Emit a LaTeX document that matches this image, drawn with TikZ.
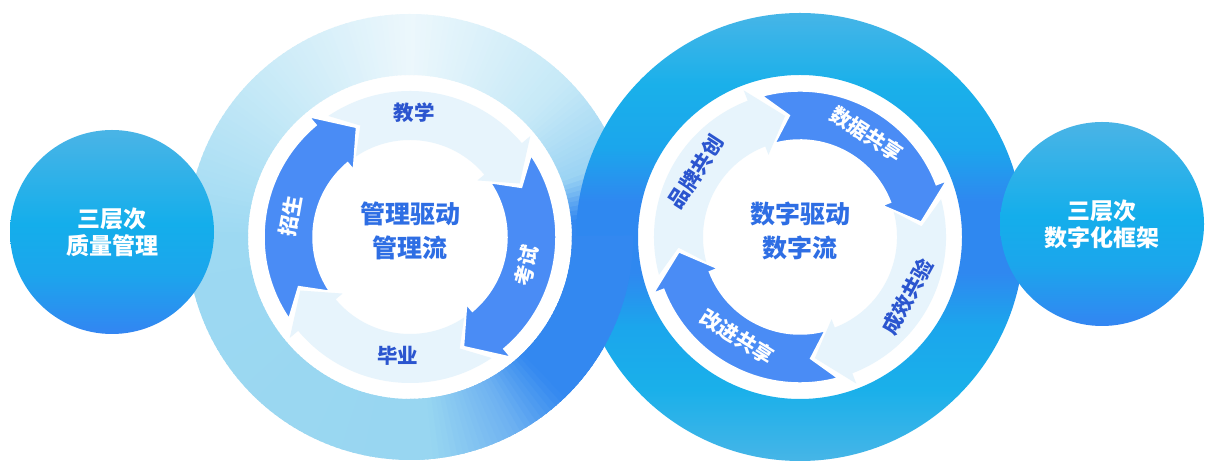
\documentclass[tikz,border=0pt]{standalone}
\usepackage{fontspec}
\setmainfont{Noto Sans CJK SC}
\usetikzlibrary{calc}

\definecolor{arrowdark}{HTML}{4A8CF5}
\definecolor{arrowlight}{HTML}{E7F4FC}
\definecolor{labelblue}{HTML}{2B55CF}
\definecolor{hubblue}{HTML}{2E6EE4}
% left ring, by angle
\definecolor{ringA}{HTML}{98D6F1}
\definecolor{ringB}{HTML}{6FB2F1}
\definecolor{ringC}{HTML}{3388F0}
\definecolor{ringD}{HTML}{9AD3F3}
\definecolor{ringE}{HTML}{C6E9F7}
\definecolor{ringF}{HTML}{ECF7FC}
\definecolor{ringG}{HTML}{9DD9F2}
% right ring and the two balls
\definecolor{cyanlight}{HTML}{46B5E7}
\definecolor{cyanmid}{HTML}{1AB0EA}
\definecolor{cyanblue}{HTML}{1BA6EC}
\definecolor{deepblue}{HTML}{2F88F0}
\definecolor{ballbot}{HTML}{3385F2}
\definecolor{ballmid}{HTML}{14AEEB}
\definecolor{balltop}{HTML}{4AB4E6}

\pgfdeclareverticalshading{ringshade}{100bp}{color(0bp)=(cyanlight); color(25bp)=(cyanlight);
  color(33bp)=(cyanmid); color(40bp)=(cyanblue); color(46bp)=(deepblue); color(54bp)=(deepblue);
  color(60bp)=(cyanblue); color(67bp)=(cyanmid); color(75bp)=(cyanlight); color(100bp)=(cyanlight)}
\pgfdeclareverticalshading{ballshade}{100bp}{color(0bp)=(ballbot); color(25bp)=(ballbot);
  color(40bp)=(cyanblue); color(52bp)=(ballmid); color(75bp)=(balltop); color(100bp)=(balltop)}

% one curved arrow: #1 centre, #2 start angle, #3 style
\newcommand{\cyclearrow}[3]{%
  \filldraw[#3, shift={(#1)}]
    (#2:146) arc[start angle=#2, end angle=#2-84, radius=146]
    -- (#2-84:157) -- (#2-98:122) -- (#2-84:88) -- (#2-84:97)
    arc[start angle=#2-84, end angle=#2, radius=97]
    -- (#2-10:122) -- cycle;}

% left ring drawn in thin sectors
\newcommand{\ringband}[1]{%
  \foreach \angA/\angB/\colA/\colB in {#1} {
    \pgfmathtruncatemacro\nseg{max(1,abs(\angB-\angA)/1.5)}
    \foreach \k in {1,...,\nseg} {
      \pgfmathsetmacro\segS{\angA+(\angB-\angA)*(\k-1)/\nseg}
      \pgfmathsetmacro\segE{\angA+(\angB-\angA)*\k/\nseg+0.4}
      \pgfmathtruncatemacro\mixP{100-(\k-0.5)*100/\nseg}
      \fill[\colA!\mixP!\colB, shift={(mgmt)}]
        (\segS:223) arc[start angle=\segS, end angle=\segE, radius=223]
        -- (\segE:162) arc[start angle=\segE, end angle=\segS, radius=162] -- cycle;
    }
  }}

\begin{document}
\begin{tikzpicture}[x=1pt, y=1pt,
    darkarrow/.style={fill=arrowdark, draw=white, line width=1.5pt},
    lightarrow/.style={fill=arrowlight, draw=none},
    tag/.style={font=\fontsize{20.5}{22}\selectfont\bfseries, inner sep=0pt},
    hub/.style={font=\fontsize{25}{34}\selectfont\bfseries, text=hubblue, align=center, inner sep=0pt},
    ball/.style={circle, minimum size=204pt, inner sep=0pt, shade, shading=ballshade,
      text=white, align=center, font=\fontsize{23}{27}\selectfont\bfseries}
  ]
  \fill[white] (0,0) rectangle (1206,462);
  \useasboundingbox (0,0) rectangle (1206,462);
  \coordinate (mgmt) at (410,225);
  \coordinate (digit) at (800,225);

  % rings, linked: right one over the top, left one over the bottom
  \ringband{-90/-84/ringA/ringA, -84/-62/ringA/ringB, -62/-46/ringB/ringC, -46/6/ringC/ringC,
    6/20/ringC/ringD, 20/45/ringD/ringE, 45/90/ringE/ringF, 90/135/ringF/ringE,
    135/180/ringE/ringG, 180/270/ringG/ringA}
  \shade[shading=ringshade, even odd rule] (digit) circle (224) (digit) circle (162);
  \ringband{-90/-84/ringA/ringA, -84/-62/ringA/ringB, -62/-46/ringB/ringC, -46/0/ringC/ringC}

  % management cycle
  \cyclearrow{mgmt}{124}{lightarrow}
  \cyclearrow{mgmt}{-56}{lightarrow}
  \cyclearrow{mgmt}{214}{darkarrow}
  \cyclearrow{mgmt}{34}{darkarrow}
  \node[tag, text=white, rotate=80] (zhaosheng) at ($(mgmt)+(170:121)$) {招生};
  \node[tag, text=labelblue] (jiaoxue) at ($(mgmt)+(88:124)$) {教学};
  \node[tag, text=white, rotate=76] (kaoshi) at ($(mgmt)+(-14:120)$) {考试};
  \node[tag, text=labelblue] (biye) at ($(mgmt)+(264:119)$) {毕业};
  \node[hub] (mgmttext) at (410,231) {管理驱动\\管理流};

  % digital cycle
  \cyclearrow{digit}{15}{lightarrow}
  \cyclearrow{digit}{-165}{lightarrow}
  \cyclearrow{digit}{105}{darkarrow}
  \cyclearrow{digit}{-75}{darkarrow}
  \node[tag, text=white, rotate=-33] (shuju) at ($(digit)+(57:123)$) {数据共享};
  \node[tag, text=labelblue, rotate=61] (chengxiao) at ($(digit)+(-29:123)$) {成效共验};
  \node[tag, text=white, rotate=-32] (gaijin) at ($(digit)+(238:118)$) {改进共享};
  \node[tag, text=labelblue, rotate=57] (pinpai) at ($(digit)+(148:123)$) {品牌共创};
  \node[hub] (digittext) at (800,231) {数字驱动\\数字流};

  % side balls
  \node[ball] (quality) at (112,230) {三层次\\质量管理};
  \node[ball] (framework) at (1102,238) {三层次\\数字化框架};
\end{tikzpicture}
\end{document}
